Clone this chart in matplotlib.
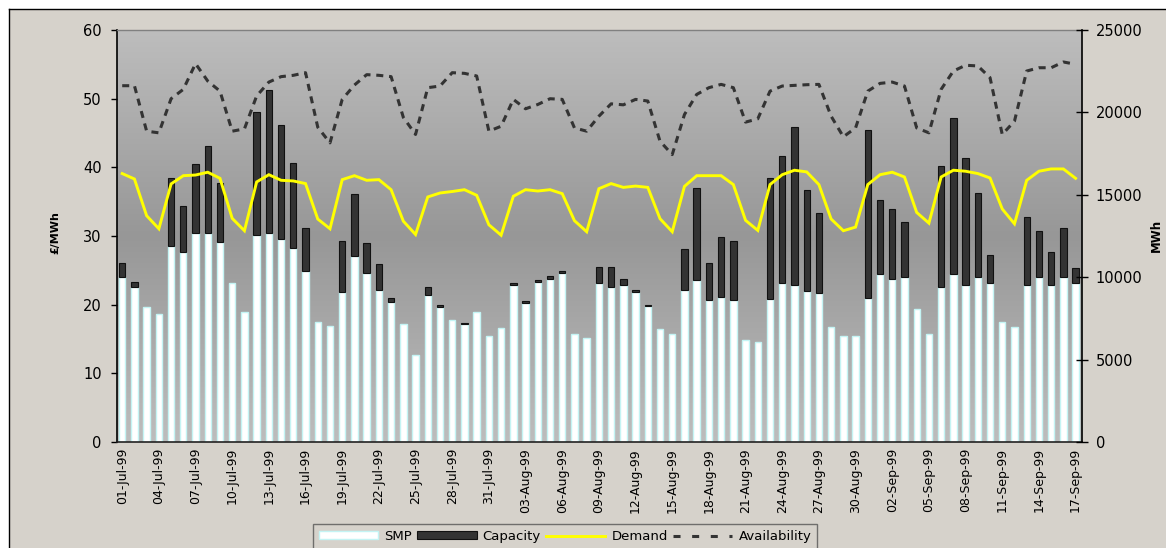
import numpy as np
import pandas as pd
import matplotlib
matplotlib.use("Agg")
import matplotlib.pyplot as plt
from matplotlib.patches import Patch, Rectangle
from matplotlib.lines import Line2D
from matplotlib.colors import LinearSegmentedColormap

# Daily pool prices and volumes, 1 Jul - 17 Sep 1999
dates = pd.date_range("1999-07-01", "1999-09-17", freq="D")

# System Marginal Price, £/MWh
smp = [24.0, 22.6, 19.7, 18.7, 28.6, 27.6, 30.4, 30.4, 29.1, 23.2,
       18.9, 30.1, 30.4, 29.6, 28.3, 24.9, 17.5, 16.9, 21.9, 27.1,
       24.6, 22.1, 20.4, 17.2, 12.7, 21.4, 19.6, 17.7, 17.2, 19.0,
       15.4, 16.6, 22.9, 20.2, 23.3, 23.8, 24.6, 15.8, 15.2, 23.1,
       22.6, 22.8, 21.8, 19.8, 16.5, 15.8, 22.2, 23.6, 20.7, 21.1,
       20.7, 14.8, 14.6, 20.8, 23.2, 22.9, 22.0, 21.7, 16.7, 15.5,
       15.4, 20.9, 24.4, 23.8, 24.1, 19.4, 15.8, 22.6, 24.4, 22.8,
       24.0, 23.1, 17.5, 16.7, 22.9, 24.0, 22.8, 24.1, 23.2]

# Capacity payment on top of SMP, £/MWh
capacity = [2.0, 0.7, 0.0, 0.0, 9.9, 6.8, 10.1, 12.7, 8.6, 0.0,
            0.0, 18.0, 20.8, 16.6, 12.4, 6.3, 0.0, 0.0, 7.3, 9.0,
            4.4, 3.8, 0.6, 0.0, 0.0, 1.1, 0.4, 0.0, 0.2, 0.0,
            0.0, 0.0, 0.3, 0.4, 0.3, 0.4, 0.3, 0.0, 0.0, 2.4,
            2.9, 0.9, 0.4, 0.2, 0.0, 0.0, 5.9, 13.4, 5.3, 8.8,
            8.6, 0.0, 0.0, 17.7, 18.5, 23.0, 14.7, 11.7, 0.0, 0.0,
            0.0, 24.5, 10.9, 10.2, 7.9, 0.0, 0.0, 17.6, 22.8, 18.6,
            12.3, 4.1, 0.0, 0.0, 9.9, 6.7, 4.9, 7.1, 2.1]

# Demand, MWh
demand = [16290, 15960, 13730, 12940, 15660, 16160, 16200, 16370, 16000, 13570,
          12820, 15780, 16220, 15880, 15840, 15680, 13530, 12940, 15920, 16160,
          15880, 15920, 15310, 13400, 12590, 14870, 15110, 15200, 15310, 14970,
          13180, 12550, 14910, 15310, 15230, 15310, 15070, 13430, 12760, 15370,
          15680, 15450, 15530, 15450, 13550, 12760, 15510, 16160, 16160, 16160,
          15620, 13450, 12840, 15620, 16220, 16490, 16390, 15620, 13530, 12820,
          13040, 15620, 16220, 16370, 16080, 13930, 13280, 16080, 16490, 16430,
          16290, 16020, 14140, 13240, 15880, 16430, 16570, 16570, 16000]

# Availability, MWh
availability = [21620, 21620, 18860, 18760, 20830, 21400, 22960, 21900, 21290, 18860,
                19000, 21000, 21840, 22170, 22250, 22410, 19100, 18150, 20790, 21660,
                22290, 22250, 22170, 19700, 18660, 21500, 21600, 22410, 22370, 22210,
                18860, 19160, 20790, 20220, 20480, 20830, 20790, 19060, 18860, 19770,
                20520, 20460, 20790, 20690, 18250, 17440, 19870, 21090, 21500, 21700,
                21500, 19410, 19610, 21290, 21600, 21640, 21680, 21700, 19770, 18520,
                19060, 21290, 21760, 21840, 21600, 19060, 18760, 21400, 22510, 22860,
                22820, 22110, 18660, 19470, 22510, 22710, 22710, 23060, 22920]

W, H = 1166, 548
BEIGE = "#d6d2cb"
plt.rcParams["font.family"] = ["DejaVu Sans"]

fig = plt.figure(figsize=(W / 100, H / 100), dpi=100, facecolor=BEIGE)

# White margin on the top and left, and the black frame line of the chart area
fx, fy = 9 / W, 1 - 9 / H
fig.patches.append(Rectangle((0, fy), 1, 1 - fy, transform=fig.transFigure,
                             facecolor="white", edgecolor="none", zorder=-10))
fig.patches.append(Rectangle((0, 0), fx, 1, transform=fig.transFigure,
                             facecolor="white", edgecolor="none", zorder=-10))
fig.lines.append(Line2D([fx, 1], [fy, fy], transform=fig.transFigure,
                        color="black", linewidth=1.0))
fig.lines.append(Line2D([fx, fx], [0, fy], transform=fig.transFigure,
                        color="black", linewidth=1.0))

ax = fig.add_axes([116.7 / W, 1 - 442 / H, (1081.7 - 116.7) / W, (442 - 30) / H])
ax2 = ax.twinx()

x = np.arange(len(dates))
xmin, xmax = -0.45, len(dates) - 0.5

# Grey gradient plot background: light at the edges, darker in the middle
cmap = LinearSegmentedColormap.from_list("bg", ["#bdbdbd", "#979797", "#bdbdbd"])
grad = np.linspace(0, 1, 256).reshape(-1, 1)
ax.imshow(grad, extent=[xmin, xmax, 0, 60], aspect="auto", cmap=cmap,
          origin="upper", zorder=0, interpolation="bilinear")
ax.patch.set_visible(False)

smp_arr = np.array(smp)
cap_arr = np.array(capacity)
bar_w = 0.52
ax.bar(x, smp_arr, width=bar_w, color="white", edgecolor="#c4f4f4",
       linewidth=1.0, zorder=2)
has_cap = cap_arr > 0
ax.bar(x[has_cap], cap_arr[has_cap], bottom=smp_arr[has_cap], width=bar_w,
       color="#333333", edgecolor="#111111", linewidth=0.8, zorder=2)

ax2.plot(x, demand, color="#ffff00", linewidth=2.1, solid_joinstyle="miter", zorder=3)
ax2.plot(x, availability, color="#333333", linewidth=2.2,
         linestyle=(0, (2.3, 1.9)), dash_capstyle="butt", zorder=3)

ax.set_xlim(xmin, xmax)
ax.set_ylim(0, 60)
ax2.set_ylim(0, 25000)
ax.set_yticks(np.arange(0, 61, 10))
ax2.set_yticks(np.arange(0, 25001, 5000))

ax.set_xticks(x[::3])
ax.set_xticklabels([d.strftime("%d-%b-%y") for d in dates[::3]], rotation=90,
                   fontsize=9)
ax.tick_params(axis="x", length=0, pad=4.3)
ax.tick_params(axis="y", direction="out", length=4.3, width=1, pad=6.5,
               labelsize=10.5)
ax2.tick_params(axis="y", direction="inout", length=8, width=1, pad=6,
                labelsize=10.5)

for a in (ax, ax2):
    for s in a.spines.values():
        s.set_visible(False)
ax.spines["left"].set_visible(True)
ax.spines["left"].set_color("black")
ax.spines["left"].set_linewidth(1.2)
ax.spines["bottom"].set_visible(True)
ax.spines["bottom"].set_color("#222222")
ax.spines["bottom"].set_linewidth(1.2)
ax.spines["top"].set_visible(True)
ax.spines["top"].set_color("#808080")
ax.spines["top"].set_linewidth(1.0)
ax2.spines["right"].set_visible(True)
ax2.spines["right"].set_color("black")
ax2.spines["right"].set_linewidth(1.2)

fig.text(55 / W, 1 - 232.5 / H, "£/MWh", rotation=90, fontsize=8,
         fontweight="bold", ha="center", va="center")
fig.text(1156.7 / W, 1 - 235 / H, "MWh", rotation=90, fontsize=8.5,
         fontweight="bold", ha="center", va="center")

handles = [
    Patch(facecolor="white", edgecolor="#c4f4f4", linewidth=1.0),
    Patch(facecolor="#333333", edgecolor="#111111", linewidth=0.8),
    Line2D([], [], color="#ffff00", linewidth=2.1),
    Line2D([], [], color="#333333", linewidth=2.2, linestyle=(0, (2.3, 3.8)),
           dash_capstyle="butt"),
]
leg = fig.legend(handles, ["SMP", "Capacity", "Demand", "Availability"],
                 loc="upper left", bbox_to_anchor=(313 / W, 1 - 524 / H),
                 ncol=4, fontsize=9.5, frameon=True, fancybox=False,
                 handlelength=4.5, handleheight=0.6, handletextpad=0.45,
                 columnspacing=0.4, borderpad=0.45, borderaxespad=0)
leg.get_frame().set_facecolor(BEIGE)
leg.get_frame().set_edgecolor("#555555")
leg.get_frame().set_linewidth(1.0)

fig.savefig("out.png", dpi=100, facecolor=fig.get_facecolor())
